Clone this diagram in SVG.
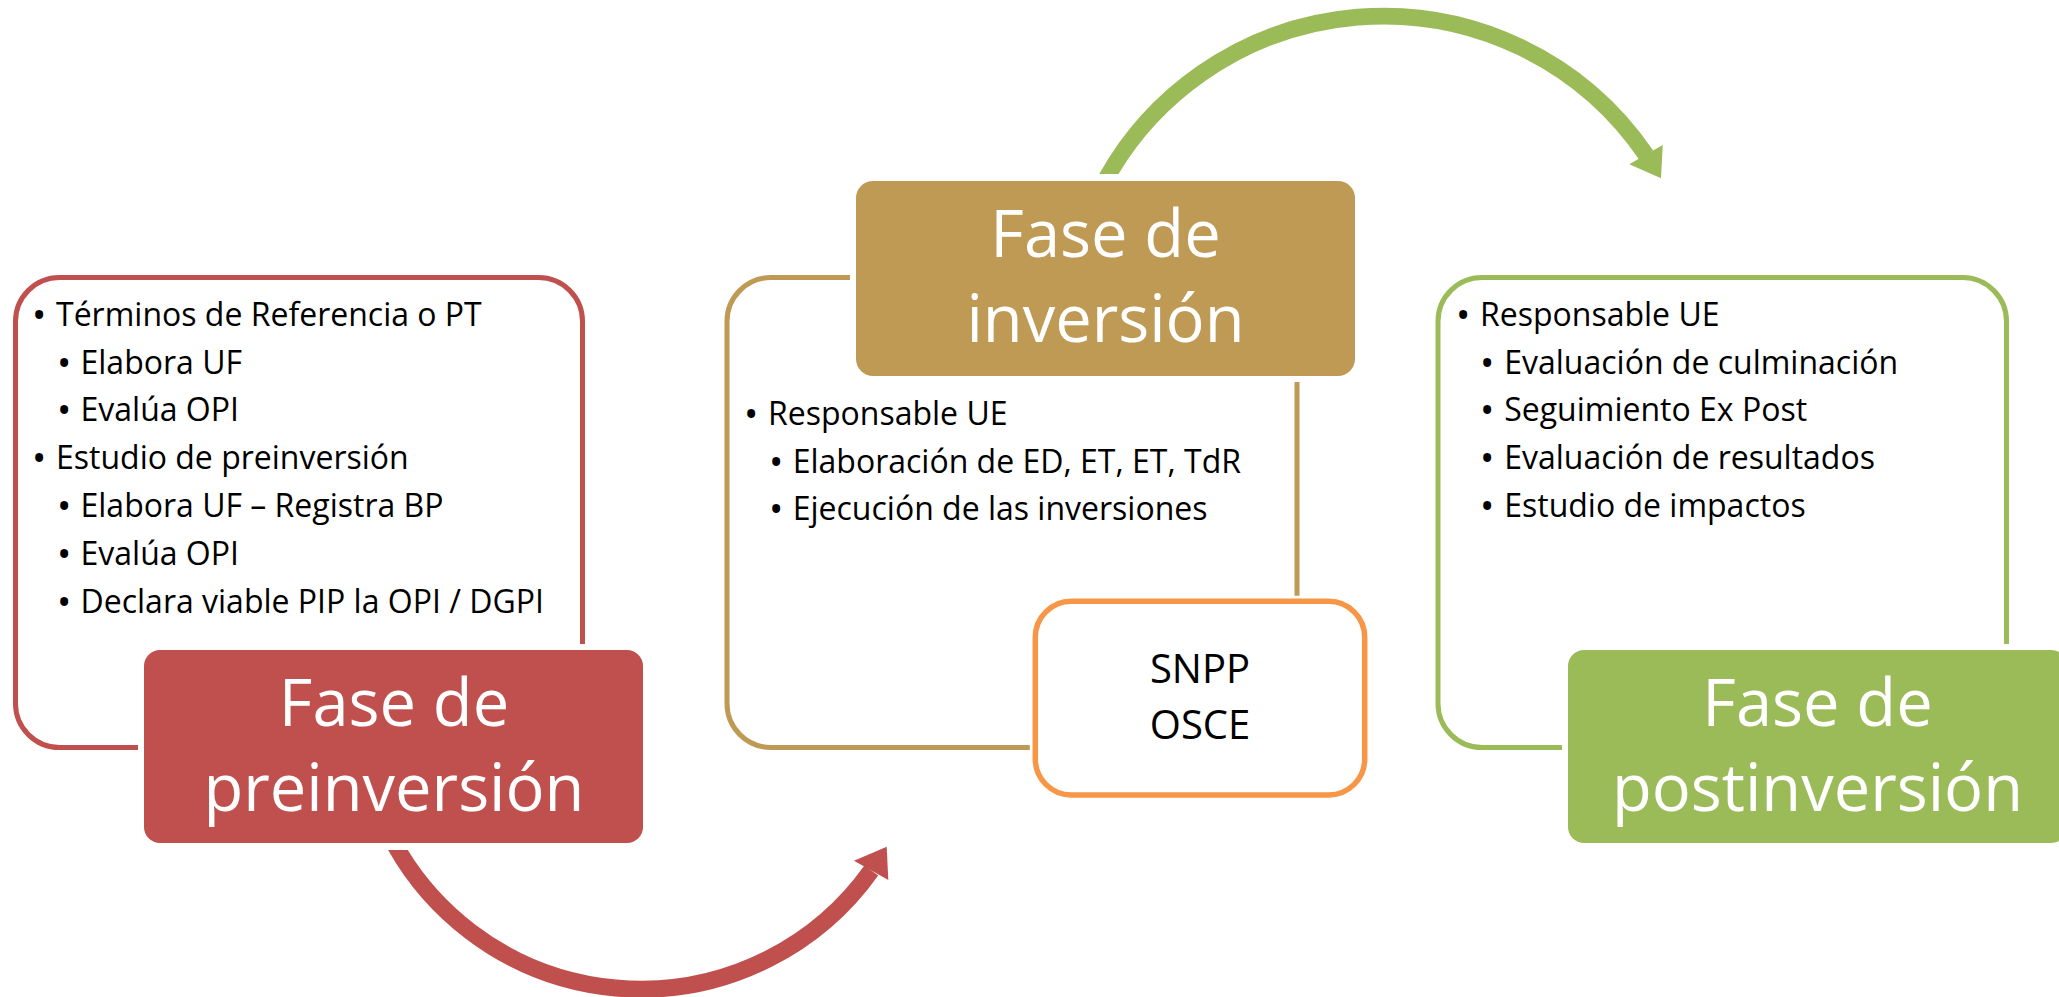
<svg xmlns="http://www.w3.org/2000/svg" width="2059" height="997" viewBox="0 0 2059 997">
<style>
.ol{fill:none;stroke-width:5}
.hd{stroke:#fff;stroke-width:12;paint-order:stroke}
.t{font-family:"Open Sans","Liberation Sans",sans-serif;font-size:32px;fill:#000}
.b{font-size:38px}
.h{font-family:"Open Sans","Liberation Sans",sans-serif;font-size:65px;fill:#fff;text-anchor:middle}
.s{font-family:"Open Sans","Liberation Sans",sans-serif;font-size:40px;fill:#000;text-anchor:middle}
</style>
<defs>
<clipPath id="cr"><rect x="0" y="850" width="2059" height="147"/></clipPath>
<clipPath id="cg"><rect x="0" y="0" width="2059" height="174"/></clipPath>
</defs>
<rect width="2059" height="997" fill="#fff"/>
<g id="connectors">
<path d="M 385.4 826.1 A 282.3 282.3 0 0 0 871.3 870.5" fill="none" stroke="#C0504D" stroke-width="17" clip-path="url(#cr)"/>
<polygon points="854,860.7 886.7,846.7 888.3,880" fill="#C0504D"/>
<path d="M 1095.3 200.1 A 317.7 317.7 0 0 1 1646.3 155.3" fill="none" stroke="#9BBB59" stroke-width="16.7" clip-path="url(#cg)"/>
<polygon points="1629.3,164.3 1662.7,145 1661,178.3" fill="#9BBB59"/>
</g>
<g id="node-preinversion">
<rect class="ol" x="15.5" y="277.5" width="567" height="470" rx="44" stroke="#C0504D"/>
<rect class="hd" x="144" y="650" width="499" height="193" rx="16" fill="#C0504D"/>
<text class="h" x="394" y="726">Fase de</text>
<text class="h" x="394" y="811">preinversión</text>
<g class="t">
<text x="32" y="325.8"><tspan class="b" dy="3">•</tspan><tspan x="56" dy="-3">Términos de Referencia o PT</tspan></text>
<text x="57" y="373.6"><tspan class="b" dy="3">•</tspan><tspan x="80.5" dy="-3">Elabora UF</tspan></text>
<text x="57" y="421.4"><tspan class="b" dy="3">•</tspan><tspan x="80.5" dy="-3">Evalúa OPI</tspan></text>
<text x="32" y="469.2"><tspan class="b" dy="3">•</tspan><tspan x="56" dy="-3">Estudio de preinversión</tspan></text>
<text x="57" y="517"><tspan class="b" dy="3">•</tspan><tspan x="80.5" dy="-3">Elabora UF – Registra BP</tspan></text>
<text x="57" y="564.8"><tspan class="b" dy="3">•</tspan><tspan x="80.5" dy="-3">Evalúa OPI</tspan></text>
<text x="57" y="612.6"><tspan class="b" dy="3">•</tspan><tspan x="80.5" dy="-3">Declara viable PIP la OPI / DGPI</tspan></text>
</g>
</g>
<g id="node-inversion">
<rect class="ol" x="727" y="277.5" width="570" height="470" rx="44" stroke="#BE9A55"/>
<rect class="hd" x="856" y="181" width="499" height="195" rx="17" fill="#BE9A55"/>
<text class="h" x="1105.5" y="257">Fase de</text>
<text class="h" x="1105.5" y="341.5">inversión</text>
<g class="t">
<text x="744" y="424.8"><tspan class="b" dy="3">•</tspan><tspan x="768" dy="-3">Responsable UE</tspan></text>
<text x="769" y="472.5"><tspan class="b" dy="3">•</tspan><tspan x="792.7" dy="-3">Elaboración de ED, ET, ET, TdR</tspan></text>
<text x="769" y="520.3"><tspan class="b" dy="3">•</tspan><tspan x="792.7" dy="-3">Ejecución de las inversiones</tspan></text>
</g>
</g>
<g id="node-snpp">
<rect x="1035.3" y="601.3" width="329.4" height="193.6" rx="36" fill="#fff" stroke="#fff" stroke-width="11"/>
<rect x="1035.3" y="601.3" width="329.4" height="193.6" rx="36" fill="#fff" stroke="#F79646" stroke-width="5.5"/>
<text class="s" x="1200" y="683">SNPP</text>
<text class="s" x="1200" y="738.8">OSCE</text>
</g>
<g id="node-postinversion">
<rect class="ol" x="1438" y="277.5" width="568.5" height="470" rx="44" stroke="#9BBB59"/>
<rect class="hd" x="1568" y="650" width="499" height="193" rx="16" fill="#9BBB59"/>
<text class="h" x="1817.5" y="726">Fase de</text>
<text class="h" x="1817.5" y="811">postinversión</text>
<g class="t">
<text x="1456" y="325.8"><tspan class="b" dy="3">•</tspan><tspan x="1480" dy="-3">Responsable UE</tspan></text>
<text x="1480" y="373.6"><tspan class="b" dy="3">•</tspan><tspan x="1504.2" dy="-3">Evaluación de culminación</tspan></text>
<text x="1480" y="421.4"><tspan class="b" dy="3">•</tspan><tspan x="1504.2" dy="-3">Seguimiento Ex Post</tspan></text>
<text x="1480" y="469.2"><tspan class="b" dy="3">•</tspan><tspan x="1504.2" dy="-3">Evaluación de resultados</tspan></text>
<text x="1480" y="517"><tspan class="b" dy="3">•</tspan><tspan x="1504.2" dy="-3">Estudio de impactos</tspan></text>
</g>
</g>
</svg>
